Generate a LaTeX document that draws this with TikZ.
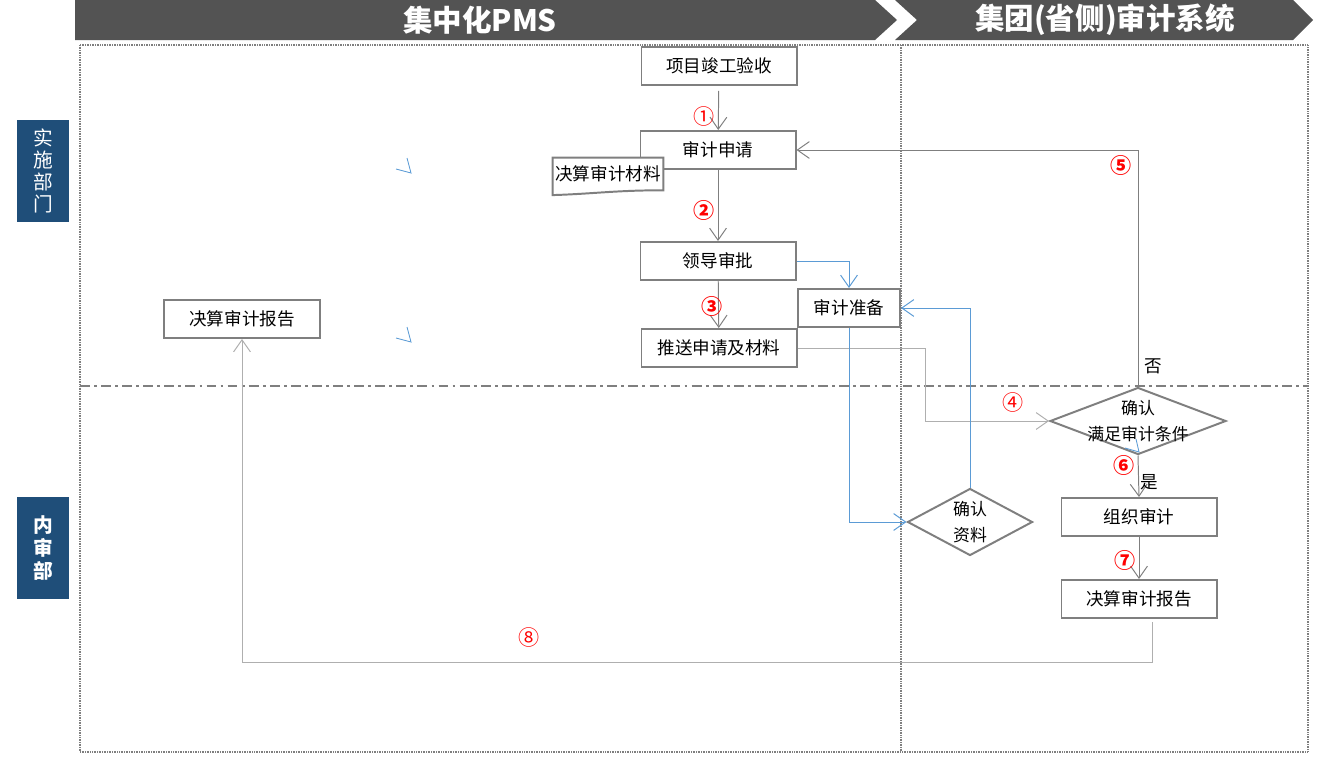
\documentclass[tikz,border=0pt]{standalone}
\usepackage{fontspec}
\setmainfont{Noto Sans CJK SC}
\usetikzlibrary{shapes.geometric, arrows.meta, positioning, calc}

\definecolor{hdrgray}{RGB}{83,83,83}
\definecolor{lanebg}{RGB}{31,78,121}
\definecolor{linegray}{RGB}{127,127,127}
\definecolor{lightline}{RGB}{175,175,175}
\definecolor{flowblue}{RGB}{91,155,213}

\begin{document}
\begin{tikzpicture}[
    x=0.025cm, y=-0.025cm,
    box/.style={rectangle, minimum width=3.875cm, minimum height=0.95cm, align=center, draw=linegray, line width=1.4pt, fill=white, font=\fontsize{12.5}{14}\selectfont},
    decision/.style={diamond, draw=linegray, line width=1.4pt, fill=white, inner sep=0pt},
    dtext/.style={align=center, font=\fontsize{12}{19}\selectfont},
    lane/.style={rectangle, fill=lanebg, minimum width=1.3cm, minimum height=2.55cm, text=white, align=center, font=\fontsize{14}{15.5}\selectfont},
    hdr/.style={text=white, font=\bfseries\fontsize{21}{21}\selectfont},
    arrow/.style={-{Straight Barb[length=3mm, width=4.2mm]}, draw=linegray, line width=0.7pt},
    lightarrow/.style={arrow, draw=lightline},
    bluearrow/.style={arrow, draw=flowblue},
    num/.style={text=red, font=\fontsize{15}{15}\selectfont},
    numbold/.style={text=red, font=\bfseries\fontsize{15}{15}\selectfont},
    tag/.style={font=\fontsize{12.5}{12.5}\selectfont},
    frame/.style={draw=linegray, line width=0.8pt, dash pattern=on 0.6pt off 0.6pt}
]
    \useasboundingbox (0,0) rectangle (1327,769);

    % Header bar
    \fill[hdrgray] (75,0) -- (875,0) -- (897,20) -- (875,40) -- (75,40) -- cycle;
    \fill[hdrgray] (895,0) -- (1293,0) -- (1313,20) -- (1293,40) -- (895,40) -- (917,20) -- cycle;
    \node[hdr] (pmshead) at (480,20) {集中化PMS};
    \node[hdr] (audhead) at (1105,20) {集团(省侧)审计系统};

    % Lanes
    \node[lane] (implane) at (43,171) {实\\施\\部\\门};
    \node[lane, font=\bfseries\fontsize{14}{16.5}\selectfont] (auditlane) at (43,548) {内\\审\\部};
    \draw[frame] (80,45) rectangle (1308,752);
    \draw[frame] (901,45) -- (901,752);
    \draw[linegray, line width=1.4pt, dash pattern=on 7pt off 3pt on 2pt off 3pt] (80,386) -- (1308,386);

    % Boxes
    \node[box] (accept) at (719,66) {项目竣工验收};
    \node[box] (apply) at (718,150) {审计申请};
    \node[box] (approve) at (718,261) {领导审批};
    \node[box] (push) at (719,348) {推送申请及材料};
    \node[box, minimum width=2.55cm] (prep) at (849,308) {审计准备};
    \node[box] (report1) at (242,319) {决算审计报告};
    \node[box] (organize) at (1139,517) {组织审计};
    \node[box] (report2) at (1139,599) {决算审计报告};

    % Document shape
    \node[minimum width=2.75cm, minimum height=0.8cm, inner sep=0pt] (material) at (608,174) {};
    \filldraw[fill=white, draw=linegray, line width=1.4pt] (material.north west) -- (material.north east) -- (material.south east)
        .. controls +(-1.2cm,0) and +(1cm,0.03cm) .. ([yshift=-0.12cm]material.south west) -- cycle;
    \node[font=\fontsize{12.5}{14}\selectfont] (materialtext) at (material) {决算审计材料};

    % Decisions
    \node[decision, minimum width=4.4cm, minimum height=1.675cm] (cond) at (1138,421) {};
    \node[dtext] (condtext) at (cond) {确认\\满足审计条件};
    \node[decision, minimum width=3.125cm, minimum height=1.675cm] (check) at (970,522) {};
    \node[dtext] (checktext) at (check) {确认\\资料};

    % Connections
    \draw[arrow, shorten <=0.12cm] (accept) -- (apply);
    \draw[arrow] (apply) -- (approve);
    \draw[arrow] (approve) -- (push);
    \draw[bluearrow] (approve.east) -| (prep.north);
    \draw[lightarrow] (push.east) -- ++(128,0) |- (cond.west);
    \draw[arrow] (cond.north) |- (apply.east);
    \draw[arrow] (cond.south) -- (organize.north);
    \draw[arrow] (organize) -- (report2);
    \draw[lightarrow] ([xshift=0.325cm, yshift=-0.08cm]report2.south) -- ++(0,40) -| (report1.south);
    \draw[bluearrow] (prep.south) |- (check.west);
    \draw[bluearrow] (check.north) |- (prep.east);

    % Stray tips
    \draw[flowblue, line width=0.6pt] (396,169) -- (411,173) -- (407,158);
    \draw[flowblue, line width=0.6pt] (396,338) -- (411,342) -- (407,327);
    \draw[flowblue, line width=0.6pt] (1136,439) -- (1139,452) -- (1125,448);

    % Step numbers
    \node[num] (n1) at (704,116) {①};
    \node[numbold] (n2) at (704,210) {②};
    \node[numbold] (n3) at (712,306) {③};
    \node[num] (n4) at (1013,402) {④};
    \node[numbold] (n5) at (1121,165) {⑤};
    \node[numbold] (n6) at (1124,465) {⑥};
    \node[numbold] (n7) at (1125,560) {⑦};
    \node[num] (n8) at (529,637) {⑧};
    \node[tag] (no) at (1153,366) {否};
    \node[tag] (yes) at (1149,482) {是};

\end{tikzpicture}
\end{document}
